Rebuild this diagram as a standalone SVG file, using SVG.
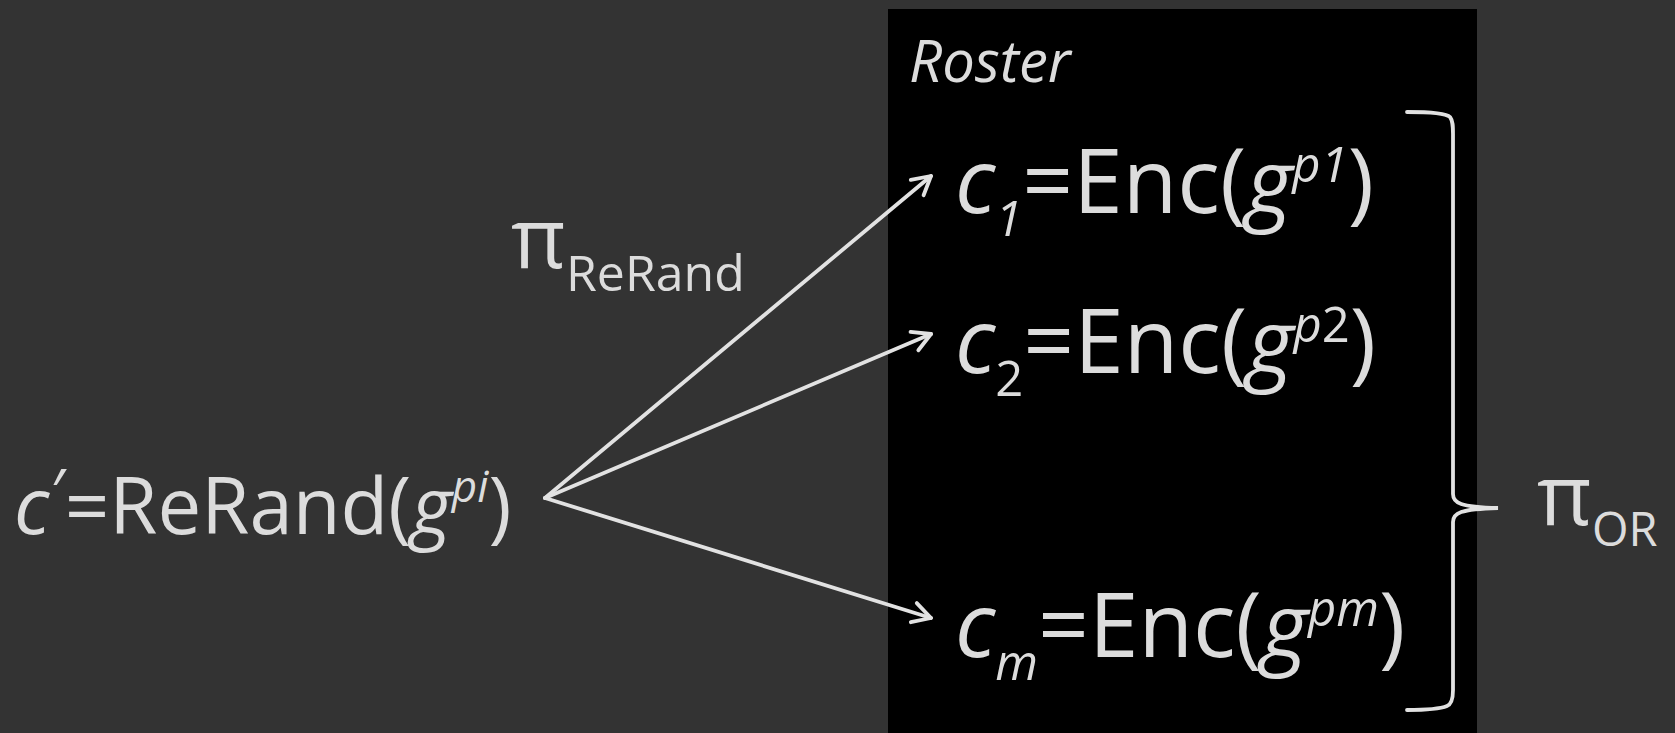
<svg xmlns="http://www.w3.org/2000/svg" width="1675" height="733" viewBox="0 0 1675 733">
  <style>
    .t { font-family: "Open Sans", "Liberation Sans", sans-serif; fill: #dcdcdc; }
    .big { font-size: 89px; }
    .main { font-size: 78px; }
    .it { font-style: italic; }
    .small { font-size: 49px; }
    .smaller { font-size: 44px; }
    .conn { stroke: #e2e2e2; stroke-width: 3.8; fill: none; stroke-linecap: round; }
  </style>
  <defs>
    <marker id="arrow" markerUnits="userSpaceOnUse" markerWidth="30" markerHeight="30" refX="22" refY="12" orient="auto" viewBox="0 0 30 24">
      <path d="M4,2 L22,12 L4,22" fill="none" stroke="#e2e2e2" stroke-width="3.8" stroke-linecap="round" stroke-linejoin="round"/>
    </marker>
  </defs>

  <!-- background -->
  <rect x="0" y="0" width="1675" height="733" fill="#333333"/>

  <!-- roster panel -->
  <g id="roster">
    <rect x="888" y="9" width="589" height="724" fill="#000000"/>
    <text class="t it" x="909" y="82" font-size="58">Roster</text>
  </g>

  <!-- source ciphertext -->
  <g id="node-cprime">
    <text class="t main" x="14" y="534"><tspan class="it">c</tspan><tspan class="it" font-size="62" dx="0" dy="-20">′</tspan><tspan dy="20" dx="2">=ReRand(</tspan><tspan class="it">g</tspan><tspan class="it smaller" dy="-32">pi</tspan><tspan dy="32">)</tspan></text>
  </g>

  <!-- roster entries -->
  <g id="node-c1">
    <text class="t big" x="955" y="213"><tspan class="it">c</tspan><tspan class="it small" dy="23">1</tspan><tspan dy="-23">=Enc(</tspan><tspan class="it">g</tspan><tspan class="it small" dy="-31">p1</tspan><tspan dy="31">)</tspan></text>
  </g>
  <g id="node-c2">
    <text class="t big" x="955" y="373"><tspan class="it">c</tspan><tspan class="small" dy="23">2</tspan><tspan dy="-23">=Enc(</tspan><tspan class="it">g</tspan><tspan class="it small" dy="-31">p</tspan><tspan class="small">2</tspan><tspan dy="31">)</tspan></text>
  </g>
  <g id="node-cm">
    <text class="t big" x="955" y="657"><tspan class="it">c</tspan><tspan class="it small" dy="23">m</tspan><tspan dy="-23">=Enc(</tspan><tspan class="it">g</tspan><tspan class="it small" dy="-31">pm</tspan><tspan dy="31">)</tspan></text>
  </g>

  <!-- proof labels -->
  <g id="label-rerand">
    <text class="t" x="511" y="268" font-size="84">π</text>
    <text class="t" x="566" y="291" font-size="50">ReRand</text>
  </g>
  <g id="label-or">
    <text class="t" x="1537" y="525" font-size="84">π</text>
    <text class="t" x="1592" y="546" font-size="47">OR</text>
  </g>

  <!-- connectors -->
  <g id="connectors">
    <line class="conn" x1="545" y1="498" x2="931" y2="176" marker-end="url(#arrow)"/>
    <line class="conn" x1="545" y1="498" x2="931" y2="334" marker-end="url(#arrow)"/>
    <line class="conn" x1="545" y1="498" x2="931" y2="618" marker-end="url(#arrow)"/>
    <!-- right brace grouping the roster -->
    <path class="conn" d="M1407,112 C1430,112 1446,113 1450,117 C1453,121 1453,126 1453,134 L1453,494 C1453,503 1460,507 1498,508 C1460,509 1453,513 1453,522 L1453,690 C1453,698 1452,704 1447,706 C1440,709 1425,710 1407,710"/>
  </g>
</svg>
